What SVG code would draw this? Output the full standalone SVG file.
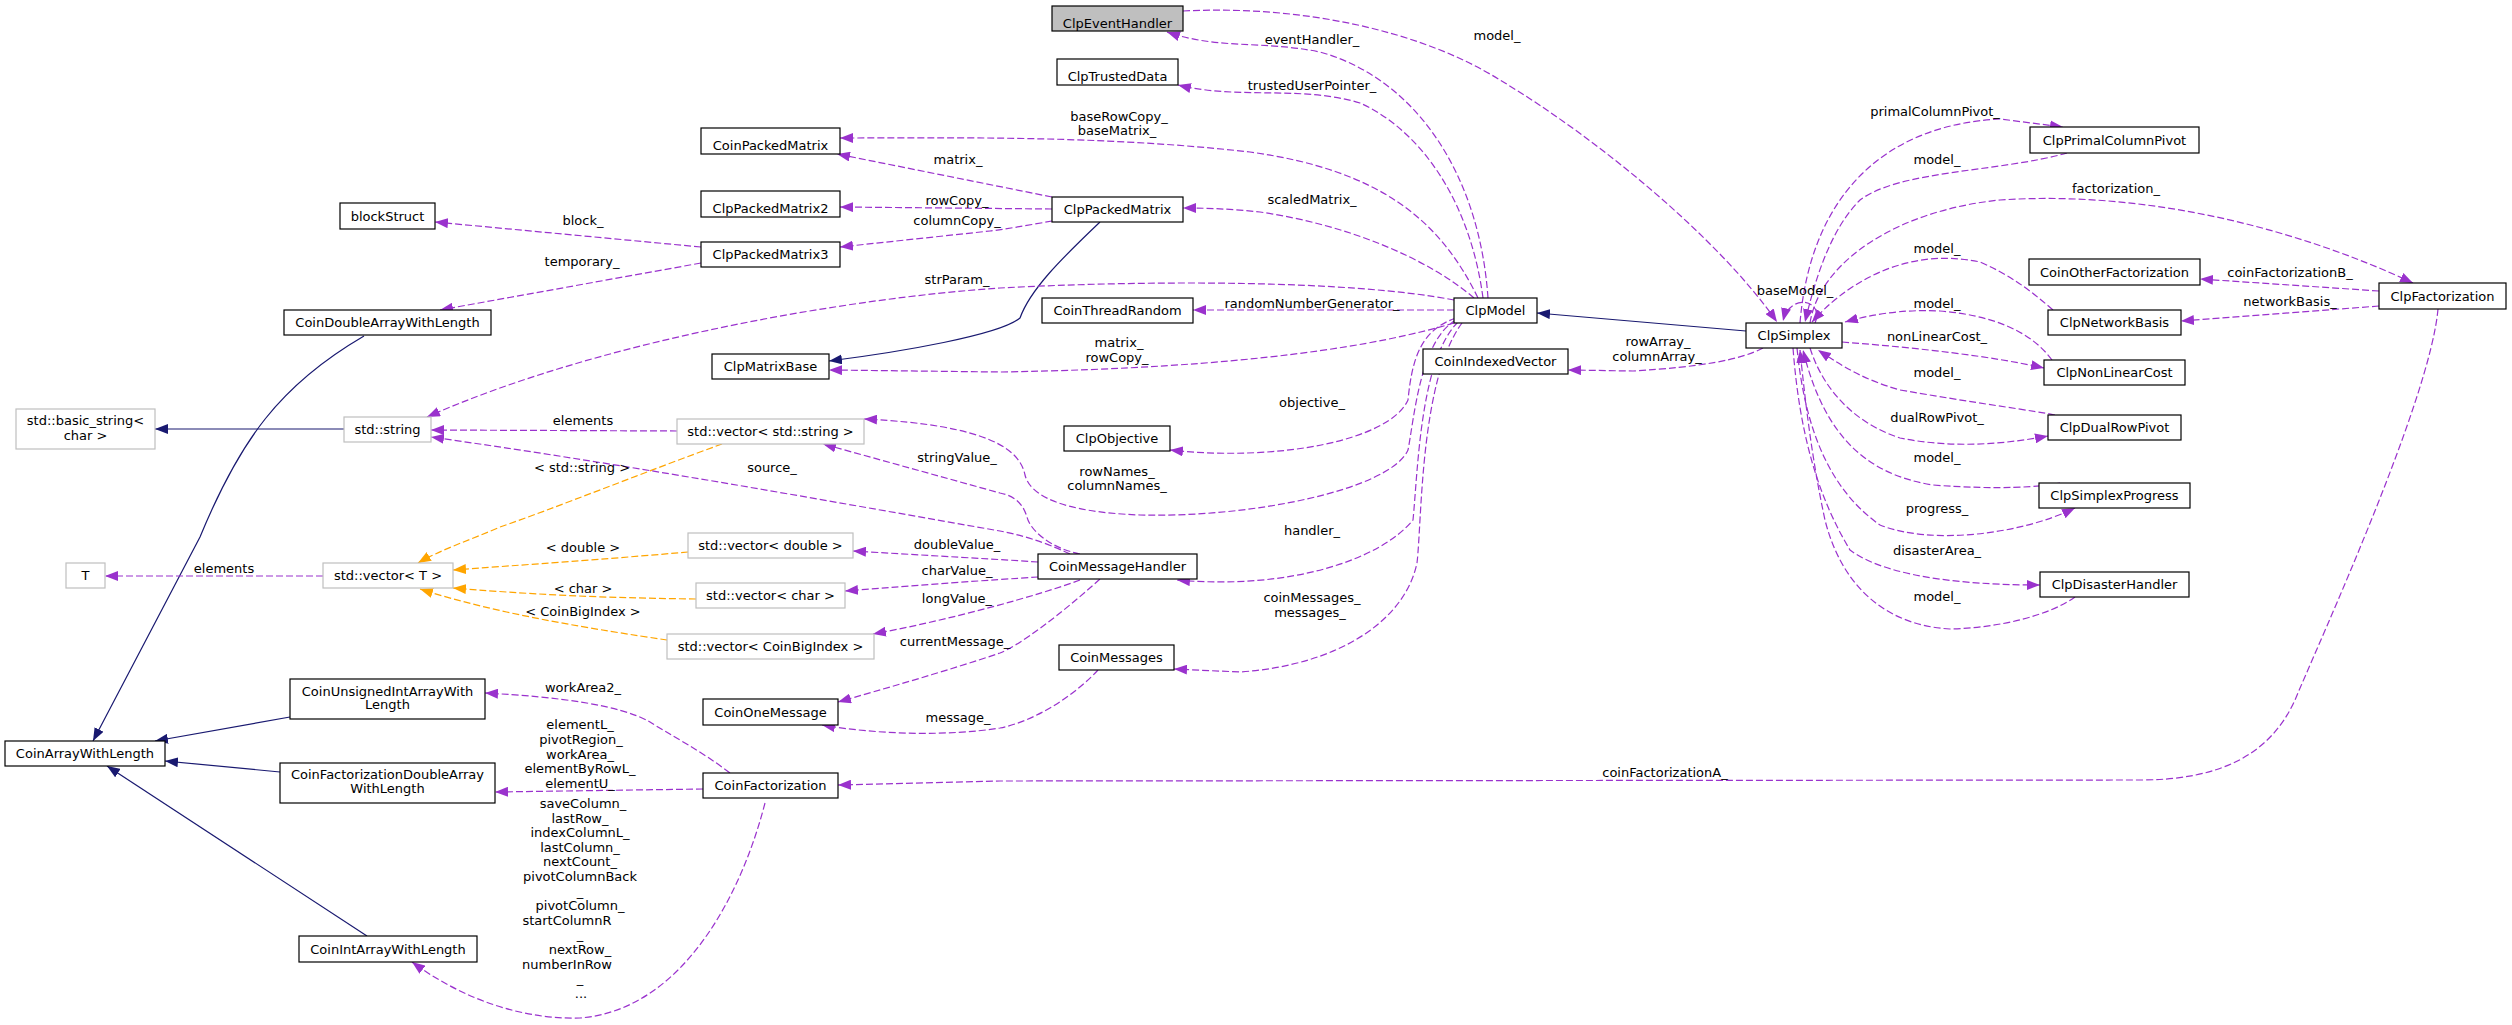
<svg xmlns="http://www.w3.org/2000/svg" width="2512" height="1025" viewBox="0 0 2512 1025">
<style>
text{font-family:"DejaVu Sans","Liberation Sans",sans-serif;font-size:13px;text-anchor:middle;fill:#000}
.n rect{fill:#fff;stroke:#000;stroke-width:1.2}
.n.g rect{stroke:#bfbfbf}
.n.s rect{fill:#bfbfbf}
.e path{fill:none;stroke:#9a32cd;stroke-width:1.2;stroke-dasharray:7,3;marker-end:url(#ap)}
.t path{fill:none;stroke:#ffa500;stroke-width:1.2;stroke-dasharray:7,3;marker-end:url(#ao)}
.i path{fill:none;stroke:#191970;stroke-width:1.2;marker-end:url(#ai)}
</style>
<defs>
<marker id="ap" markerUnits="userSpaceOnUse" viewBox="0 0 14 10" markerWidth="14" markerHeight="10" refX="13" refY="5" orient="auto"><path d="M0,0 L13,5 L0,10 z" fill="#9a32cd" stroke="none"/></marker>
<marker id="ao" markerUnits="userSpaceOnUse" viewBox="0 0 14 10" markerWidth="14" markerHeight="10" refX="13" refY="5" orient="auto"><path d="M0,0 L13,5 L0,10 z" fill="#ffa500" stroke="none"/></marker>
<marker id="ai" markerUnits="userSpaceOnUse" viewBox="0 0 14 10" markerWidth="14" markerHeight="10" refX="13" refY="5" orient="auto"><path d="M0,0 L13,5 L0,10 z" fill="#191970" stroke="none"/></marker>
</defs>
<rect width="2512" height="1025" fill="#fff"/>

<g id="connectors">
<g class="i">
<path d="M1746,331 L1537,313"/>
<path d="M1100,222 C1060,260 1030,290 1020,318 C1000,335 900,352 829,361"/>
<path d="M344,429 L155,429"/>
<path d="M364,336 C280,385 240,440 200,537 L93,741"/>
<path d="M290,717 L155,741"/>
<path d="M280,772 L165,761"/>
<path d="M367,936 L107,766"/>
</g>
<g class="t">
<path d="M722,444 C650,470 550,510 500,527 C470,540 440,550 418,563"/>
<path d="M688,552 C620,558 550,563 453,570"/>
<path d="M696,599 C620,598 550,596 453,588"/>
<path d="M667,640 C600,630 500,615 420,589"/>
</g>
<g class="e">
<path d="M1488,298 C1480,180 1420,80 1320,52 C1260,40 1220,50 1167,32"/>
<path d="M1483,298 C1470,200 1420,130 1360,103 C1300,85 1240,100 1178,85"/>
<path d="M1478,298 C1440,220 1380,170 1250,152 C1100,135 950,138 840,138"/>
<path d="M1474,298 C1430,260 1350,225 1260,212 C1230,209 1210,208 1183,208"/>
<path d="M1454,300 C1350,280 1150,280 1000,288 C850,298 600,340 427,417"/>
<path d="M1454,310 L1193,310"/>
<path d="M1454,323 C1380,345 1250,368 1000,372 L829,370"/>
<path d="M1456,318 C1420,330 1412,360 1408,400 C1390,440 1280,462 1170,450"/>
<path d="M1456,320 C1420,340 1414,420 1408,450 C1390,490 1250,518 1140,515 C1060,512 1030,495 1025,475 C1020,450 990,425 864,419"/>
<path d="M1458,322 C1420,360 1418,470 1413,520 C1380,560 1290,590 1177,580"/>
<path d="M1462,323 C1420,380 1422,520 1417,563 C1405,620 1340,665 1240,672 L1174,669"/>
<path d="M1080,554 C1050,548 1030,530 1027,517 C1022,500 1010,495 1000,493 L823,444"/>
<path d="M1070,554 C1040,540 1020,535 1000,531 C850,505 650,468 431,437"/>
<path d="M1038,562 C1010,560 920,555 853,551"/>
<path d="M1038,577 C990,580 920,585 845,591"/>
<path d="M1080,580 C1040,595 950,620 873,634"/>
<path d="M1100,579 C1060,615 1020,645 1000,653 C950,670 880,690 838,702"/>
<path d="M1098,670 C1080,690 1040,720 1000,728 C950,736 880,735 822,725"/>
<path d="M677,431 L431,430"/>
<path d="M323,576 L105,576"/>
<path d="M1052,197 L837,154"/>
<path d="M1052,209 L840,207"/>
<path d="M1052,221 C1030,225 1000,230 990,231 L840,247"/>
<path d="M701,247 L435,222"/>
<path d="M701,263 L440,310"/>
<path d="M730,773 C700,750 670,735 650,722 C620,705 560,697 485,693"/>
<path d="M703,789 L495,792"/>
<path d="M765,803 C740,900 680,1010 580,1018 C510,1020 450,990 412,962"/>
<path d="M2438,309 C2430,400 2320,640 2295,700 C2270,755 2220,780 2140,780 L1000,781 L838,785"/>
<path d="M2379,291 L2200,279"/>
<path d="M2379,306 L2181,321"/>
<path d="M1810,323 C1820,260 1900,210 2000,200 C2150,190 2300,230 2413,283"/>
<path d="M1800,323 C1810,200 1880,125 2000,119 L2063,127"/>
<path d="M2067,153 C2000,172 1900,170 1860,200 C1830,230 1815,280 1805,322"/>
<path d="M2053,310 C2030,290 2010,275 1980,262 C1900,245 1840,290 1812,322"/>
<path d="M2052,360 C2030,330 1990,315 1940,311 C1900,309 1870,315 1845,322"/>
<path d="M1842,342 C1920,348 1990,356 2044,368"/>
<path d="M2055,415 C2030,410 2000,407 1900,390 C1865,380 1845,368 1818,350"/>
<path d="M1810,348 C1825,395 1860,425 1900,438 C1950,448 2000,445 2048,436"/>
<path d="M2060,483 C2040,487 2000,490 1933,485 C1870,475 1825,440 1803,350"/>
<path d="M1797,348 C1805,430 1830,490 1880,525 C1930,545 2020,535 2075,508"/>
<path d="M1793,348 C1800,440 1820,500 1850,550 C1890,580 1980,585 2040,585"/>
<path d="M2075,597 C2050,615 2000,628 1950,629 C1880,625 1840,580 1825,520 C1812,460 1805,400 1800,350"/>
<path d="M1763,348 C1740,360 1700,367 1633,371 L1568,370"/>
<path d="M1183,11 C1300,5 1420,30 1500,80 C1600,140 1720,240 1777,322"/>
<path d="M1815,323 C1825,300 1790,292 1783,321"/>
</g>
<g id="labels">
<text x="1312" y="43.5">eventHandler_</text>
<text x="1497" y="39.5">model_</text>
<text x="1312" y="89.5">trustedUserPointer_</text>
<text x="1119" y="120.5">baseRowCopy_</text>
<text x="1117" y="134.5">baseMatrix_</text>
<text x="958" y="163.5">matrix_</text>
<text x="957" y="204.5">rowCopy_</text>
<text x="957" y="224.5">columnCopy_</text>
<text x="583" y="224.5">block_</text>
<text x="582" y="265.5">temporary_</text>
<text x="957" y="283.5">strParam_</text>
<text x="1312" y="203.5">scaledMatrix_</text>
<text x="1312" y="307.5">randomNumberGenerator_</text>
<text x="1119" y="346.5">matrix_</text>
<text x="1117" y="361.5">rowCopy_</text>
<text x="583" y="424.5">elements</text>
<text x="582" y="471.5">&lt; std::string &gt;</text>
<text x="772" y="471.5">source_</text>
<text x="957" y="461.5">stringValue_</text>
<text x="1312" y="406.5">objective_</text>
<text x="1117" y="475.5">rowNames_</text>
<text x="1117" y="489.5">columnNames_</text>
<text x="1312" y="534.5">handler_</text>
<text x="1312" y="601.5">coinMessages_</text>
<text x="1310" y="616.5">messages_</text>
<text x="957" y="548.5">doubleValue_</text>
<text x="583" y="551.5">&lt; double &gt;</text>
<text x="957" y="574.5">charValue_</text>
<text x="583" y="592.5">&lt; char &gt;</text>
<text x="957" y="602.5">longValue_</text>
<text x="583" y="615.5">&lt; CoinBigIndex &gt;</text>
<text x="955" y="645.5">currentMessage_</text>
<text x="583" y="691.5">workArea2_</text>
<text x="958" y="721.5">message_</text>
<text x="224" y="572.5">elements</text>
<text x="1665" y="776.5">coinFactorizationA_</text>
<text x="580" y="729">elementL_</text>
<text x="581" y="743.5">pivotRegion_</text>
<text x="580" y="758.5">workArea_</text>
<text x="580" y="773">elementByRowL_</text>
<text x="580" y="787.5">elementU_</text>
<text x="583" y="808">saveColumn_</text>
<text x="580" y="822.6">lastRow_</text>
<text x="580" y="837.2">indexColumnL_</text>
<text x="580" y="851.8">lastColumn_</text>
<text x="580" y="866.4">nextCount_</text>
<text x="580" y="881">pivotColumnBack</text>
<text x="580" y="895.6">_</text>
<text x="580" y="910.2">pivotColumn_</text>
<text x="567" y="924.8">startColumnR</text>
<text x="580" y="939.4">_</text>
<text x="580" y="954">nextRow_</text>
<text x="567" y="968.6">numberInRow</text>
<text x="580" y="983.2">_</text>
<text x="581" y="997.8">...</text>
<text x="1935" y="115.5">primalColumnPivot_</text>
<text x="1937" y="163.5">model_</text>
<text x="2116" y="192.5">factorization_</text>
<text x="1937" y="252.5">model_</text>
<text x="1795" y="294.5">baseModel_</text>
<text x="1937" y="307.5">model_</text>
<text x="2290" y="276.5">coinFactorizationB_</text>
<text x="2290" y="305.5">networkBasis_</text>
<text x="1937" y="340.5">nonLinearCost_</text>
<text x="1658" y="345.5">rowArray_</text>
<text x="1657" y="360.5">columnArray_</text>
<text x="1937" y="376.5">model_</text>
<text x="1937" y="421.5">dualRowPivot_</text>
<text x="1937" y="461.5">model_</text>
<text x="1937" y="512.5">progress_</text>
<text x="1937" y="554.5">disasterArea_</text>
<text x="1937" y="600.5">model_</text>
</g>
</g>

<g id="ClpEventHandler" class="n s"><rect x="1052" y="6" width="131" height="25"/><text x="1117.5" y="27.5">ClpEventHandler</text></g>
<g id="ClpTrustedData" class="n"><rect x="1057" y="59" width="121" height="26"/><text x="1117.5" y="81">ClpTrustedData</text></g>
<g id="CoinPackedMatrix" class="n"><rect x="701" y="128" width="139" height="26"/><text x="770.5" y="150">CoinPackedMatrix</text></g>
<g id="ClpPackedMatrix2" class="n"><rect x="701" y="191" width="139" height="26"/><text x="770.5" y="213">ClpPackedMatrix2</text></g>
<g id="ClpPackedMatrix3" class="n"><rect x="701" y="242" width="139" height="25"/><text x="770.5" y="259">ClpPackedMatrix3</text></g>
<g id="ClpPackedMatrix" class="n"><rect x="1052" y="197" width="131" height="25"/><text x="1117.5" y="214">ClpPackedMatrix</text></g>
<g id="blockStruct" class="n"><rect x="340" y="203" width="95" height="26"/><text x="387.5" y="220.5">blockStruct</text></g>
<g id="CoinDoubleArrayWithLength" class="n"><rect x="284" y="310" width="207" height="25"/><text x="387.5" y="327">CoinDoubleArrayWithLength</text></g>
<g id="std_basic_string" class="n g"><rect x="16" y="409" width="139" height="40"/><text x="85.5" y="424.5">std::basic_string&lt;</text><text x="85.5" y="439.5">char &gt;</text></g>
<g id="std_string" class="n g"><rect x="344" y="417" width="87" height="25"/><text x="387.5" y="434">std::string</text></g>
<g id="ClpMatrixBase" class="n"><rect x="712" y="354" width="117" height="25"/><text x="770.5" y="371">ClpMatrixBase</text></g>
<g id="CoinThreadRandom" class="n"><rect x="1042" y="298" width="151" height="25"/><text x="1117.5" y="315">CoinThreadRandom</text></g>
<g id="ClpModel" class="n"><rect x="1454" y="298" width="83" height="25"/><text x="1495.5" y="315">ClpModel</text></g>
<g id="CoinIndexedVector" class="n"><rect x="1423" y="349" width="145" height="25"/><text x="1495.5" y="366">CoinIndexedVector</text></g>
<g id="ClpSimplex" class="n"><rect x="1746" y="323" width="96" height="25"/><text x="1794" y="340">ClpSimplex</text></g>
<g id="std_vector_string" class="n g"><rect x="677" y="419" width="187" height="25"/><text x="770.5" y="436">std::vector&lt; std::string &gt;</text></g>
<g id="ClpObjective" class="n"><rect x="1064" y="426" width="106" height="25"/><text x="1117" y="443">ClpObjective</text></g>
<g id="T" class="n g"><rect x="66" y="563" width="39" height="25"/><text x="85.5" y="580">T</text></g>
<g id="std_vector_T" class="n g"><rect x="323" y="563" width="130" height="25"/><text x="388" y="580">std::vector&lt; T &gt;</text></g>
<g id="std_vector_double" class="n g"><rect x="688" y="533" width="165" height="25"/><text x="770.5" y="550">std::vector&lt; double &gt;</text></g>
<g id="std_vector_char" class="n g"><rect x="696" y="583" width="149" height="25"/><text x="770.5" y="600">std::vector&lt; char &gt;</text></g>
<g id="std_vector_CoinBigIndex" class="n g"><rect x="667" y="634" width="207" height="25"/><text x="770.5" y="651">std::vector&lt; CoinBigIndex &gt;</text></g>
<g id="CoinMessageHandler" class="n"><rect x="1038" y="554" width="159" height="25"/><text x="1117.5" y="571">CoinMessageHandler</text></g>
<g id="CoinMessages" class="n"><rect x="1059" y="645" width="115" height="25"/><text x="1116.5" y="662">CoinMessages</text></g>
<g id="CoinOneMessage" class="n"><rect x="703" y="699" width="135" height="26"/><text x="770.5" y="716.5">CoinOneMessage</text></g>
<g id="CoinUnsignedIntArrayWithLength" class="n"><rect x="290" y="679" width="195" height="40"/><text x="387.5" y="695.5">CoinUnsignedIntArrayWith</text><text x="387.5" y="708.5">Length</text></g>
<g id="CoinArrayWithLength" class="n"><rect x="5" y="741" width="160" height="25"/><text x="85" y="758">CoinArrayWithLength</text></g>
<g id="CoinFactorizationDoubleArrayWithLength" class="n"><rect x="280" y="763" width="215" height="40"/><text x="387.5" y="778.5">CoinFactorizationDoubleArray</text><text x="387.5" y="792.5">WithLength</text></g>
<g id="CoinFactorization" class="n"><rect x="703" y="773" width="135" height="25"/><text x="770.5" y="790">CoinFactorization</text></g>
<g id="CoinIntArrayWithLength" class="n"><rect x="299" y="936" width="178" height="26"/><text x="388" y="953.5">CoinIntArrayWithLength</text></g>
<g id="ClpPrimalColumnPivot" class="n"><rect x="2030" y="127" width="169" height="26"/><text x="2114.5" y="144.5">ClpPrimalColumnPivot</text></g>
<g id="CoinOtherFactorization" class="n"><rect x="2029" y="259" width="171" height="26"/><text x="2114.5" y="276.5">CoinOtherFactorization</text></g>
<g id="ClpNetworkBasis" class="n"><rect x="2048" y="310" width="133" height="25"/><text x="2114.5" y="327">ClpNetworkBasis</text></g>
<g id="ClpFactorization" class="n"><rect x="2379" y="283" width="127" height="26"/><text x="2442.5" y="300.5">ClpFactorization</text></g>
<g id="ClpNonLinearCost" class="n"><rect x="2044" y="360" width="141" height="25"/><text x="2114.5" y="377">ClpNonLinearCost</text></g>
<g id="ClpDualRowPivot" class="n"><rect x="2048" y="415" width="133" height="25"/><text x="2114.5" y="432">ClpDualRowPivot</text></g>
<g id="ClpSimplexProgress" class="n"><rect x="2039" y="483" width="151" height="25"/><text x="2114.5" y="500">ClpSimplexProgress</text></g>
<g id="ClpDisasterHandler" class="n"><rect x="2040" y="572" width="149" height="25"/><text x="2114.5" y="589">ClpDisasterHandler</text></g>
</svg>
